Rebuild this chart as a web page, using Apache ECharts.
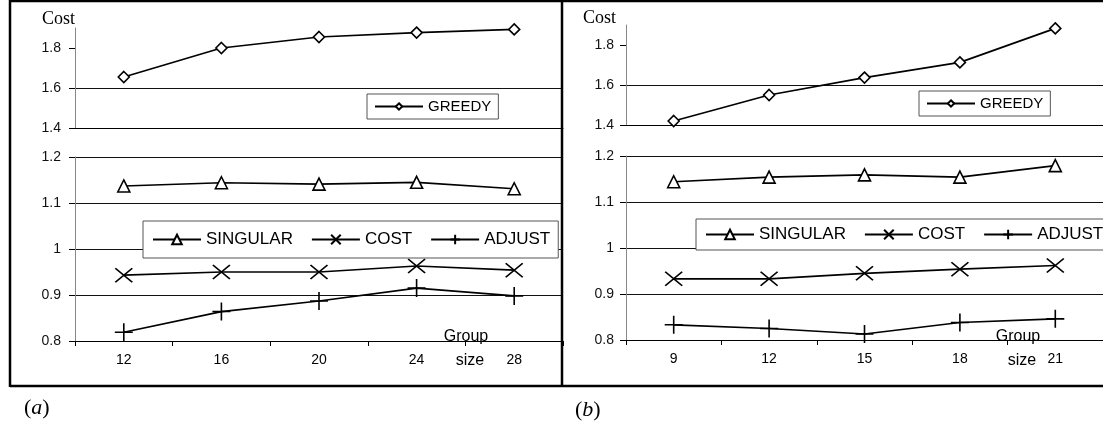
<!DOCTYPE html>
<html>
<head>
<meta charset="utf-8">
<script src="https://cdn.jsdelivr.net/npm/echarts@6.0.0/dist/echarts.min.js"></script>
<style>
  html, body { margin: 0; padding: 0; background: #fff; }
  #chart { width: 1103px; height: 427px; }
</style>
</head>
<body>
<div id="chart"></div>
<script>
// group sizes (x categories)
var groupSizesA = ['12', '16', '20', '24', '28'];
var groupSizesB = ['9', '12', '15', '18', '21'];

// panel (a)
var greedyA   = [1.655, 1.800, 1.855, 1.877, 1.893];
var singularA = [1.137, 1.144, 1.141, 1.145, 1.131];
var costA     = [0.943, 0.950, 0.950, 0.963, 0.954];
var adjustA   = [0.819, 0.864, 0.887, 0.915, 0.898];

// panel (b)
var greedyB   = [1.420, 1.550, 1.637, 1.713, 1.883];
var singularB = [1.144, 1.154, 1.159, 1.154, 1.179];
var costB     = [0.933, 0.933, 0.945, 0.954, 0.962];
var adjustB   = [0.833, 0.825, 0.813, 0.838, 0.846];

// axis ranges: min, max, step
var upperRange = [1.4, 1.9, 0.2];
var lowerRange = [0.8, 1.2, 0.1];

var SANS = 'Liberation Sans, Arial, sans-serif';
var SERIF = 'Liberation Serif, Times New Roman, serif';

var X_PATH = 'path://M0,0L10,10M10,0L0,10';
var PLUS_PATH = 'path://M5,0L5,10M0,5L10,5';

//折线 + 标记
function makeSeries(name, data, axisIdx, symbol, size) {
    return {
        type: 'line',
        name: name,
        xAxisIndex: axisIdx,
        yAxisIndex: axisIdx,
        data: data,
        symbol: symbol,
        symbolSize: size,
        showAllSymbol: true,
        animation: false,
        lineStyle: { color: '#000', width: 1.7 },
        itemStyle: { color: '#fff', borderColor: '#000', borderWidth: 1.6 },
        emphasis: { disabled: true }
    };
}

function xAxisOf(gridIdx, cats, lower) {
    return {
        type: 'category',
        gridIndex: gridIdx,
        data: cats,
        axisLine: { lineStyle: { color: '#000', width: 1 } },
        axisTick: { show: lower, length: 5, lineStyle: { color: '#000' } },
        axisLabel: { show: lower, color: '#000', fontFamily: SANS, fontSize: 14, margin: 12 },
        splitLine: { show: false }
    };
}

function yAxisOf(gridIdx, range, lower, margin, nameOpt) {
    var ax = {
        type: 'value',
        gridIndex: gridIdx,
        min: range[0],
        max: range[1],
        interval: range[2],
        axisLine: { show: true, lineStyle: { color: '#888', width: 1 } },
        axisTick: { show: true, length: 6, lineStyle: { color: '#000' } },
        axisLabel: {
            color: '#111', fontFamily: SANS, fontSize: 14, margin: margin,
            showMaxLabel: lower,
            formatter: function (v) { return String(+v.toFixed(1)); }
        },
        splitLine: { show: true, showMaxLine: lower, lineStyle: { color: '#111', width: 1 } }
    };
    if (!lower) {
        ax.axisTick.customValues = [1.4, 1.6, 1.8];
    }
    if (nameOpt) {
        ax.name = 'Cost';
        ax.nameLocation = 'end';
        ax.nameGap = nameOpt.gap;
        ax.nameTextStyle = {
            fontFamily: SERIF, fontSize: 18, color: '#000',
            align: 'right', verticalAlign: 'middle',
            padding: [0, nameOpt.padRight, 0, 0]
        };
    }
    return ax;
}

function legendOf(names, left, top, width, fontSize, itemH, pad, gap) {
    return {
        data: names,
        left: left,
        top: top,
        width: width,
        orient: 'horizontal',
        selectedMode: false,
        itemWidth: 48,
        itemHeight: itemH,
        itemGap: gap,
        padding: pad,
        backgroundColor: '#fff',
        borderColor: '#555',
        borderWidth: 1,
        textStyle: { fontFamily: SANS, fontSize: fontSize, color: '#000' }
    };
}

var series = [
    makeSeries('GREEDY', greedyA, 0, 'diamond', 11),
    makeSeries('SINGULAR', singularA, 1, 'triangle', 12),
    makeSeries('COST', costA, 1, X_PATH, [17, 14]),
    makeSeries('ADJUST', adjustA, 1, PLUS_PATH, [18, 18]),
    makeSeries('GREEDY', greedyB, 2, 'diamond', 11),
    makeSeries('SINGULAR', singularB, 3, 'triangle', 12),
    makeSeries('COST', costB, 3, X_PATH, [17, 14]),
    makeSeries('ADJUST', adjustB, 3, PLUS_PATH, [18, 18])
];

var frame = { stroke: '#000', lineWidth: 2.5 };

var option = {
    backgroundColor: '#fff',
    animation: false,
    grid: [
        { left: 75, top: 28, width: 488, height: 100 },
        { left: 75, top: 157, width: 488, height: 184 },
        { left: 626, top: 25, width: 490, height: 100 },
        { left: 626, top: 156, width: 490, height: 184 }
    ],
    xAxis: [
        xAxisOf(0, groupSizesA, false),
        xAxisOf(1, groupSizesA, true),
        xAxisOf(2, groupSizesB, false),
        xAxisOf(3, groupSizesB, true)
    ],
    yAxis: [
        yAxisOf(0, upperRange, false, 14, { gap: 9, padRight: 0 }),
        yAxisOf(1, lowerRange, true, 14),
        yAxisOf(2, upperRange, false, 12, { gap: 7, padRight: 10 }),
        yAxisOf(3, lowerRange, true, 12)
    ],
    legend: [
        legendOf(['GREEDY'], 367, 94, 130, 15, 8, [5, 7, 5, 7], 10),
        legendOf(['SINGULAR', 'COST', 'ADJUST'], 143, 221, 420, 17, 12, [10, 8, 10, 9], 18),
        legendOf(['GREEDY'], 919, 91, 130, 15, 8, [5, 7, 5, 7], 10),
        legendOf(['SINGULAR', 'COST', 'ADJUST'], 696, 219, 420, 17, 12, [7, 8, 7, 9], 18)
    ],
    series: series,
    graphic: [
        // 外框
        { type: 'line', z: 100, shape: { x1: 10, y1: 1, x2: 1103, y2: 1 }, style: frame },
        { type: 'line', z: 100, shape: { x1: 10, y1: 386, x2: 1103, y2: 386 }, style: frame },
        { type: 'line', z: 100, shape: { x1: 10, y1: 0, x2: 10, y2: 387 }, style: frame },
        { type: 'line', z: 100, shape: { x1: 562, y1: 0, x2: 562, y2: 387 }, style: frame },
        // Group size
        { type: 'text', z: 100, x: 466, y: 337, style: { text: 'Group', font: '16px ' + SANS, fill: '#000', align: 'center', verticalAlign: 'middle' } },
        { type: 'text', z: 100, x: 470, y: 361, style: { text: 'size', font: '16px ' + SANS, fill: '#000', align: 'center', verticalAlign: 'middle' } },
        { type: 'text', z: 100, x: 1018, y: 337, style: { text: 'Group', font: '16px ' + SANS, fill: '#000', align: 'center', verticalAlign: 'middle' } },
        { type: 'text', z: 100, x: 1022, y: 361, style: { text: 'size', font: '16px ' + SANS, fill: '#000', align: 'center', verticalAlign: 'middle' } },
        // 子图编号
        {
            type: 'text', z: 100, x: 24, y: 408,
            style: {
                text: '({i|a})', font: '22px ' + SERIF, fill: '#000', verticalAlign: 'middle',
                rich: { i: { fontStyle: 'italic', fontFamily: SERIF, fontSize: 22 } }
            }
        },
        {
            type: 'text', z: 100, x: 575, y: 410,
            style: {
                text: '({i|b})', font: '22px ' + SERIF, fill: '#000', verticalAlign: 'middle',
                rich: { i: { fontStyle: 'italic', fontFamily: SERIF, fontSize: 22 } }
            }
        }
    ]
};

var chart = echarts.init(document.getElementById('chart'), null, { renderer: 'canvas' });
chart.setOption(option);
</script>
</body>
</html>
